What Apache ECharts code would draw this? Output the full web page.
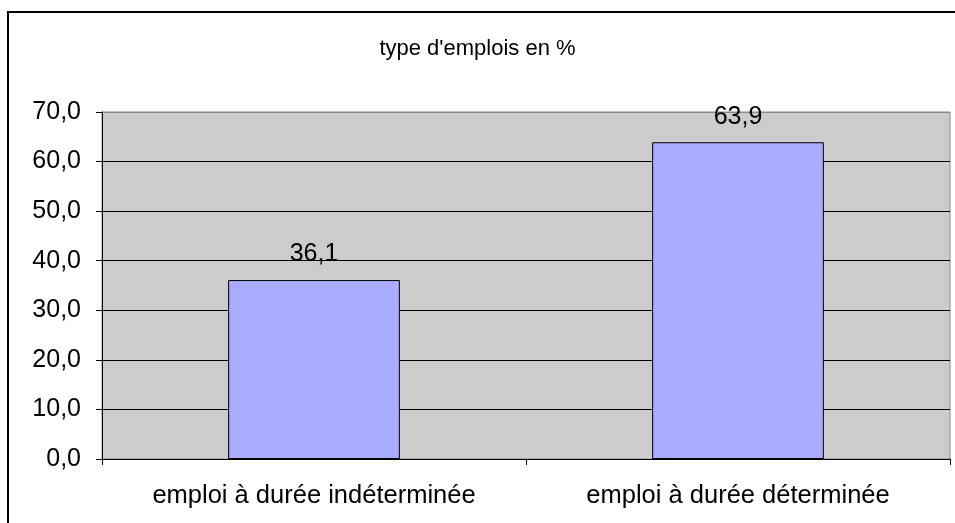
<!DOCTYPE html>
<html>
<head>
<meta charset="utf-8">
<script src="https://cdn.jsdelivr.net/npm/echarts@6/dist/echarts.min.js"></script>
<style>
html,body{margin:0;padding:0;background:#fff;}
#chart{width:955px;height:523px;}
</style>
</head>
<body>
<div id="chart"></div>
<script>
var titleText = "type d'emplois en %";
var categories = ["emploi à durée indéterminée", "emploi à durée déterminée"];
var values = [36.1, 63.9];
var yMin = 0, yMax = 70, yInterval = 10;

function fr(v) { return Number(v).toFixed(1).replace('.', ','); }

var chart = echarts.init(document.getElementById('chart'), null, {renderer: 'canvas'});
var font = 'Liberation Sans, Arial, sans-serif';
chart.setOption({
  animation: false,
  backgroundColor: '#ffffff',
  title: {
    text: titleText,
    left: 'center',
    top: 33,
    textStyle: {fontFamily: font, fontSize: 22, fontWeight: 'normal', color: '#000'}
  },
  graphic: [{
    type: 'rect',
    shape: {x: 8, y: 12, width: 1000, height: 600},
    style: {fill: 'none', stroke: '#000', lineWidth: 2},
    silent: true
  }],
  grid: {
    left: 102, right: 5, top: 112, bottom: 64,
    show: true, backgroundColor: '#CCCCCC', borderColor: '#888888', borderWidth: 1
  },
  xAxis: {
    type: 'category',
    data: categories,
    axisLine: {show: true, lineStyle: {color: '#000', width: 1}},
    axisTick: {show: true, length: 6, lineStyle: {color: '#000'}},
    axisLabel: {fontFamily: font, fontSize: 25.5, color: '#000', margin: 24}
  },
  yAxis: {
    type: 'value',
    min: yMin, max: yMax, interval: yInterval,
    axisLine: {show: true, lineStyle: {color: '#000', width: 1}},
    axisTick: {show: true, length: 6, lineStyle: {color: '#000'}},
    axisLabel: {fontFamily: font, fontSize: 25, color: '#000', margin: 21, formatter: fr},
    splitLine: {show: true, lineStyle: {color: ['#000','#000','#000','#000','#000','#000','#000','#888'], width: 1}}
  },
  series: [{
    type: 'bar',
    data: values,
    barWidth: '40.5%',
    itemStyle: {color: '#A9ABFF', borderColor: '#000', borderWidth: 1},
    label: {
      show: true, position: 'top', distance: 13,
      fontFamily: font, fontSize: 25, color: '#000',
      formatter: function (p) { return fr(p.value); }
    }
  }]
});
</script>
</body>
</html>
